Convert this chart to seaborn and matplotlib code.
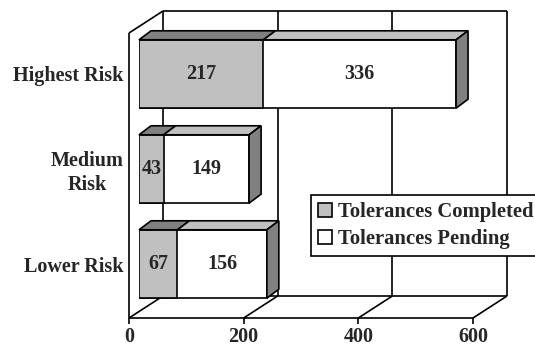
import matplotlib
matplotlib.use("Agg")
import matplotlib.pyplot as plt
from matplotlib.patches import Polygon, Patch
import pandas as pd
import seaborn as sns

# Tolerance review status by risk level
risk_levels = ["Highest Risk", "Medium\nRisk", "Lower Risk"]
completed = [217, 43, 67]
pending = [336, 149, 156]
x_ticks = [0, 200, 400, 600]

sns.set_theme(style="white")
plt.rcParams["font.family"] = ["Liberation Serif", "DejaVu Serif"]
plt.rcParams["font.weight"] = "bold"

FACE_GRAY = "#C0C0C0"
SHADE_GRAY = "#808080"
LW = 1.2
FS = 14.5

W, H = 535, 347
fig = plt.figure(figsize=(W / 100, H / 100), dpi=100)
fig.patch.set_facecolor("white")
# axes plane = front face of the bars
ax = fig.add_axes([139 / W, (H - 311.5) / H, 344 / W, 285 / H])

df = pd.DataFrame({"risk": risk_levels, "completed": completed, "pending": pending})
df["total"] = df["completed"] + df["pending"]

BAR_W = 0.72
sns.barplot(data=df, x="total", y="risk", orient="h", color="white",
            saturation=1, width=BAR_W, edgecolor="black", linewidth=LW,
            ax=ax, zorder=3)
sns.barplot(data=df, x="completed", y="risk", orient="h", color=FACE_GRAY,
            saturation=1, width=BAR_W, edgecolor="black", linewidth=LW,
            ax=ax, zorder=3)

ax.set_xlim(0, 600)
ax.set_ylim(2.5, -0.5)
ax.set_facecolor("none")
for s in ax.spines.values():
    s.set_visible(False)
ax.set_xlabel("")
ax.set_ylabel("")
ax.set_xticks([])
ax.set_yticks(range(len(risk_levels)))
ax.set_yticklabels(risk_levels, fontsize=FS, fontweight="bold",
                   multialignment="center")
ax.tick_params(axis="y", length=0, pad=11)


def shift(x, y, dx, dy):
    """Data point displaced by (dx, dy) screen pixels."""
    px, py = ax.transData.transform((x, y))
    return tuple(ax.transData.inverted().transform((px + dx, py + dy)))


FRONT = (-10, -6.5)   # front edge of the floor / left wall
BACK = (24, 15.5)     # back wall
DEPTH = (12, 9)       # bar thickness
Y_TOP, Y_FLOOR = -0.5, 2.5


def seg(p, q, z=1):
    ax.plot([p[0], q[0]], [p[1], q[1]], color="black", lw=LW,
            clip_on=False, zorder=z, solid_capstyle="butt")


# back wall with gridlines
seg(shift(0, Y_TOP, *BACK), shift(600, Y_TOP, *BACK))
for t in x_ticks:
    seg(shift(t, Y_TOP, *BACK), shift(t, Y_FLOOR, *BACK))
# floor
seg(shift(0, Y_FLOOR, *BACK), shift(600, Y_FLOOR, *BACK))
seg(shift(0, Y_FLOOR, *FRONT), shift(600, Y_FLOOR, *FRONT))
for t in x_ticks:
    seg(shift(t, Y_FLOOR, *FRONT), shift(t, Y_FLOOR, *BACK))
# left wall
seg(shift(0, Y_TOP, *FRONT), shift(0, Y_FLOOR, *FRONT))
seg(shift(0, Y_TOP, *FRONT), shift(0, Y_TOP, *BACK))

# value axis ticks and labels on the front floor edge
for t in x_ticks:
    fx, fy = shift(t, Y_FLOOR, *FRONT)
    seg((fx, fy), shift(fx, fy, 0, -6))
    lx, ly = shift(fx, fy, 0, -23.5)
    ax.text(lx, ly, f"{t}", ha="center", va="baseline", fontsize=FS,
            fontweight="bold", clip_on=False)

# 3D top and side faces of the stacked bars
for i, (c, p) in enumerate(zip(completed, pending)):
    top, bot = i - BAR_W / 2, i + BAR_W / 2
    total = c + p
    for x0, x1, col in [(0, c, SHADE_GRAY), (c, total, FACE_GRAY)]:
        pts = [(x0, top), (x1, top), shift(x1, top, *DEPTH), shift(x0, top, *DEPTH)]
        ax.add_patch(Polygon(pts, closed=True, facecolor=col, edgecolor="black",
                             lw=LW, clip_on=False, zorder=4, joinstyle="miter"))
    pts = [(total, top), (total, bot), shift(total, bot, *DEPTH), shift(total, top, *DEPTH)]
    ax.add_patch(Polygon(pts, closed=True, facecolor=SHADE_GRAY, edgecolor="black",
                         lw=LW, clip_on=False, zorder=4, joinstyle="miter"))
    # value labels on the front faces
    ax.text(c / 2, i, f"{c}", ha="center", va="center", fontsize=FS,
            fontweight="bold", zorder=5)
    ax.text(c + p / 2, i, f"{p}", ha="center", va="center", fontsize=FS,
            fontweight="bold", zorder=5)

handles = [
    Patch(facecolor=FACE_GRAY, edgecolor="black", lw=LW, label="Tolerances Completed"),
    Patch(facecolor="white", edgecolor="black", lw=LW, label="Tolerances Pending"),
]
leg = fig.legend(handles=handles, loc="upper left",
                 bbox_to_anchor=(311 / W, 1 - 195 / H), borderaxespad=0,
                 frameon=True, fancybox=False, framealpha=1, edgecolor="black",
                 prop={"size": 14.9, "weight": "bold"}, handlelength=0.65,
                 handleheight=0.65, handletextpad=0.3, borderpad=0.35,
                 labelspacing=0.32)
leg.get_frame().set_linewidth(LW)

fig.savefig("out.png", dpi=100, facecolor="white")
